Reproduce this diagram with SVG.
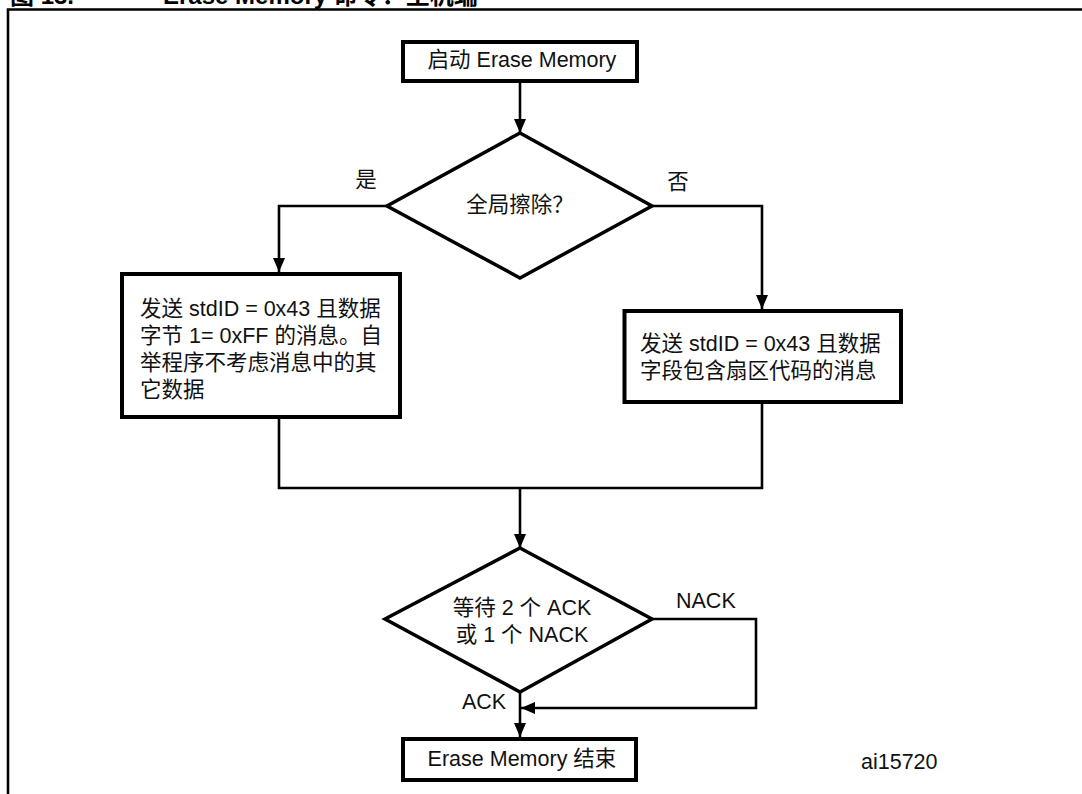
<svg xmlns="http://www.w3.org/2000/svg" width="1082" height="794" viewBox="0 0 1082 794">
  <style>
    .txt { font-family: "Liberation Sans", "Noto Sans CJK SC", sans-serif; font-size: 21.5px; fill: #111; }
    .mid { text-anchor: middle; }
    .title { font-family: "Liberation Sans", "Noto Sans CJK SC", sans-serif; font-size: 24px; font-weight: bold; fill: #000; }
    .box { fill: #fff; stroke: #000; stroke-width: 4; }
    .dia { fill: #fff; stroke: #000; stroke-width: 3.5; stroke-linejoin: miter; }
    .wire { fill: none; stroke: #000; stroke-width: 2.6; }
    .frame { fill: none; stroke: #000; stroke-width: 2.6; }
  </style>
  <defs>
    <marker id="head" viewBox="0 0 14 12" refX="14" refY="6" markerWidth="14" markerHeight="12" markerUnits="userSpaceOnUse" orient="auto">
      <path d="M0,0 L14,6 L0,12 z" fill="#000"/>
    </marker>
  </defs>

  <rect width="1082" height="794" fill="#fff"/>

  <!-- figure caption and frame -->
  <text class="title" x="10" y="4">图 13.</text>
  <text class="title" x="163" y="4">Erase Memory 命令：主机端</text>
  <path class="frame" d="M8,794 V9.5 H1082"/>

  <!-- connectors -->
  <g id="connectors">
    <path class="wire" d="M520,83 V133" marker-end="url(#head)"/>
    <path class="wire" d="M387,206 H279 V272" marker-end="url(#head)"/>
    <path class="wire" d="M652,206 H762 V309" marker-end="url(#head)"/>
    <path class="wire" d="M279,419 V488 H762 V404"/>
    <path class="wire" d="M520,488 V548" marker-end="url(#head)"/>
    <path class="wire" d="M652,619 H756 V708 H521" marker-end="url(#head)"/>
    <path class="wire" d="M520,692 V737" marker-end="url(#head)"/>
    <text class="txt" x="366" y="187" text-anchor="middle" font-size="20">是</text>
    <text class="txt" x="678" y="189" text-anchor="middle" font-size="20">否</text>
    <text class="txt" x="676" y="608">NACK</text>
    <text class="txt" x="462" y="709">ACK</text>
  </g>

  <g id="start">
    <rect class="box" x="403" y="42" width="234" height="39"/>
    <text class="txt mid" x="522" y="67">启动 Erase Memory</text>
  </g>

  <g id="global-erase">
    <polygon class="dia" points="520,133 652,206 520,278 387,206"/>
    <text class="txt mid" x="520" y="212">全局擦除？</text>
  </g>

  <g id="send-ff">
    <rect class="box" x="122" y="274" width="278" height="143"/>
    <text class="txt" x="140" y="316">发送 stdID = 0x43 且数据</text>
    <text class="txt" x="140" y="343">字节 1= 0xFF 的消息。自</text>
    <text class="txt" x="140" y="370">举程序不考虑消息中的其</text>
    <text class="txt" x="140" y="397">它数据</text>
  </g>

  <g id="send-sectors">
    <rect class="box" x="624.5" y="311" width="276.5" height="91"/>
    <text class="txt" x="640" y="351">发送 stdID = 0x43 且数据</text>
    <text class="txt" x="640" y="378">字段包含扇区代码的消息</text>
  </g>

  <g id="wait-ack">
    <polygon class="dia" points="520,548 652,619 520,692 385,619"/>
    <text class="txt mid" x="522" y="615">等待 2 个 ACK</text>
    <text class="txt mid" x="522" y="642">或 1 个 NACK</text>
  </g>

  <g id="end">
    <rect class="box" x="403" y="739" width="233" height="41"/>
    <text class="txt mid" x="522" y="766">Erase Memory 结束</text>
  </g>

  <text class="txt" x="861" y="769" font-size="18">ai15720</text>
</svg>
